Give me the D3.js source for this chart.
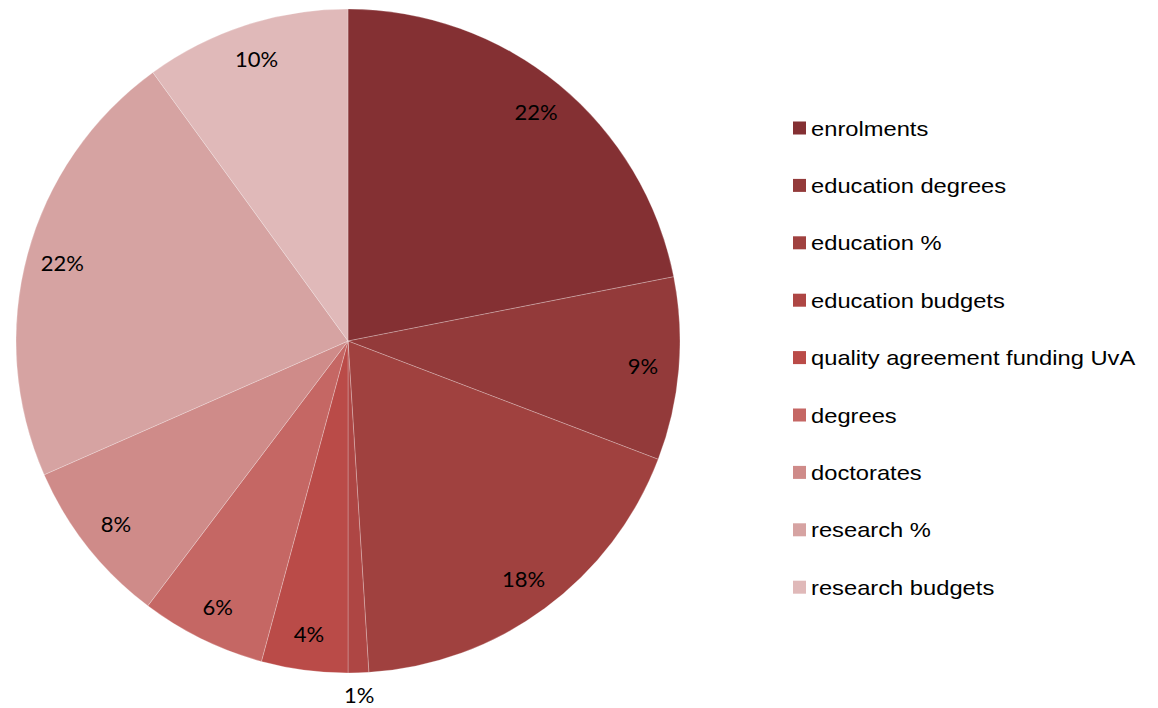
<!DOCTYPE html>
<html>
  <script src="https://cdn.jsdelivr.net/npm/d3@7"></script>
  <style>
    body{ margin: 0; background: #fff; }
    .lbl{ font-family: Lato, "Open Sans", sans-serif; font-size: 22px; fill: #000; }
    .leg{ font-family: "Liberation Sans", Arial, sans-serif; font-size: 21px; fill: #000; }
  </style>
  <body>
    <script>

var categories = ['enrolments', 'education degrees', 'education %', 'education budgets',
                  'quality agreement funding UvA', 'degrees', 'doctorates', 'research %', 'research budgets']
  , values = [21.9, 8.9, 18.2, 1.0, 4.2, 6.1, 8.1, 21.6, 10.0]
  , colors = ['#843033', '#933a3a', '#a0413f', '#ae4644', '#ba4b48', '#c56764', '#cf8b89', '#d6a3a2', '#e0b9b9']

var W = 1158, H = 708
  , cx = 348, cy = 341, R = 332

var svg = d3.select('body').append('svg').attr('width', W).attr('height', H)
  , g = svg.append('g').attr('transform', 'translate(' + cx + ',' + cy + ')')

var total = d3.sum(values)
var pie = d3.pie().sort(null).value(function(d){ return d })
  , arcs = pie(values)
  , arc = d3.arc().innerRadius(0).outerRadius(R)
  , labelArc = d3.arc().innerRadius(296).outerRadius(296)
  , outerArc = d3.arc().innerRadius(R + 22).outerRadius(R + 22)

g.selectAll('path').data(arcs).enter().append('path')
  .attr('d', arc)
  .attr('fill', function(d, i){ return colors[i] })
  .attr('stroke', 'rgba(255,255,255,0.35)')
  .attr('stroke-width', 0.7)

g.selectAll('text').data(arcs).enter().append('text')
  .attr('class', 'lbl')
  .attr('text-anchor', 'middle')
  .attr('dy', '0.35em')
  .attr('transform', function(d){
    var small = d.value / total < 0.02
    return 'translate(' + (small ? outerArc : labelArc).centroid(d) + ')'
  })
  .text(function(d){ return Math.round(d.value / total * 100) + '%' })

var legend = svg.append('g').attr('transform', 'translate(793,128)')
  , rows = legend.selectAll('g').data(categories).enter().append('g')
      .attr('transform', function(d, i){ return 'translate(0,' + (i * 57.4) + ')' })

rows.append('rect').attr('x', 0).attr('y', -6.5).attr('width', 13).attr('height', 13)
  .attr('fill', function(d, i){ return colors[i] })
rows.append('text').attr('class', 'leg')
  .attr('transform', 'translate(18,0) scale(1.13,1)')
  .attr('dy', '0.36em')
  .text(function(d){ return d })

    </script>
  </body>
</html>
